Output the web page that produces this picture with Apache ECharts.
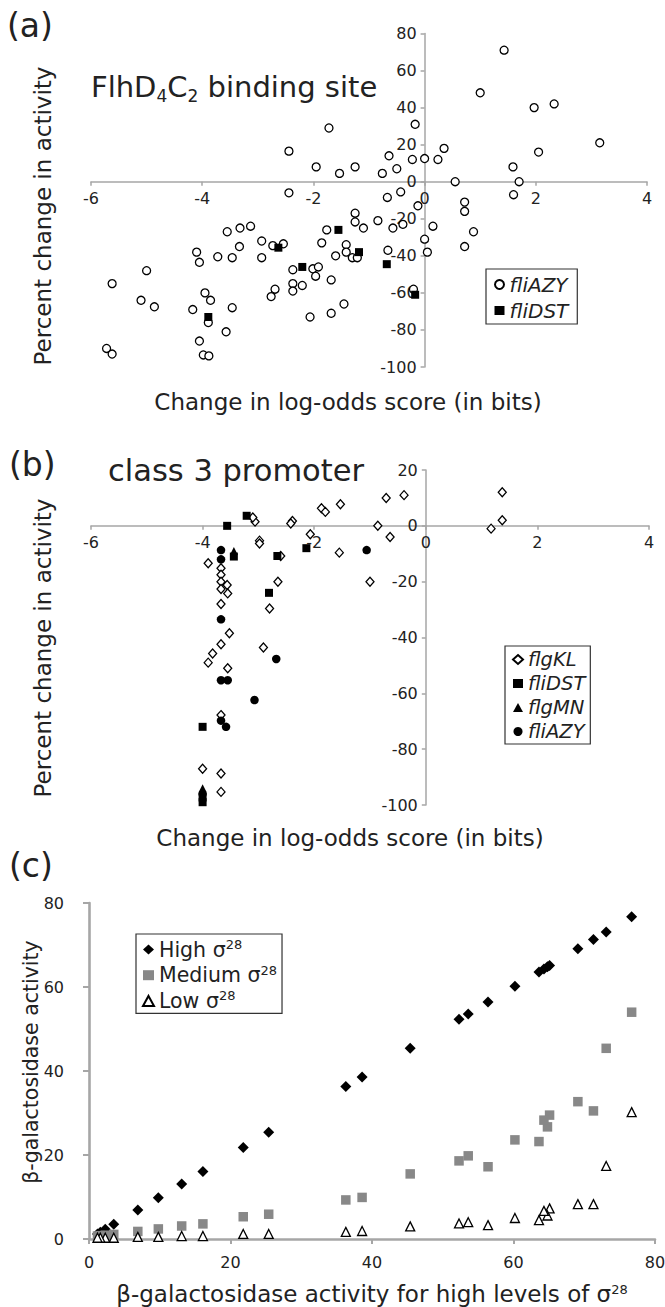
<!DOCTYPE html>
<html>
<head>
<meta charset="utf-8">
<title>sigma28 promoter activity</title>
<script src="https://cdn.jsdelivr.net/npm/echarts@6.0.0/dist/echarts.min.js"></script>
<style>
  html, body { margin: 0; padding: 0; background: #fff; }
  #chart { width: 665px; height: 1307px; }
</style>
</head>
<body>
<div id="chart"></div>
<script>
// (a) FlhD4C2 binding site: [change in log-odds score (bits), percent change in activity]
const aFliAZY = [
  [1.43, 71], [1.0, 48], [1.97, 40], [2.33, 42], [3.15, 21], [2.05, 16], [1.59, 8], [1.7, 0],
  [1.6, -7], [0.55, 0], [0.72, -11], [0.72, -16], [0.35, 18], [0.24, 12], [0, 12.5], [-0.22, 12],
  [-0.17, 31], [-0.64, 14], [-0.5, 7], [-0.76, 4.5], [-1.25, 8], [-1.53, 4.5], [-1.95, 8], [-1.72, 29],
  [-2.44, 16.5], [-2.44, -6], [-0.67, -8.5], [-0.43, -5.5], [-0.12, -13], [-1.25, -17], [-1.25, -21.7],
  [-1.1, -25], [-0.84, -21], [-0.57, -25], [-0.39, -23], [0.15, -24], [0, -31], [0.05, -38], [0.88, -27],
  [0.72, -35], [-0.66, -37], [-0.2, -58], [-1.41, -34], [-1.41, -38], [-1.3, -41], [-1.21, -41],
  [-1.6, -40], [-1.76, -26], [-1.85, -33], [-2.93, -32], [-2.93, -41], [-2.73, -34.5], [-2.54, -33.5],
  [-3.13, -24], [-3.32, -25], [-3.55, -27], [-3.33, -35], [-4.1, -38], [-4.05, -43.5], [-3.72, -40.5],
  [-3.46, -41], [-5.0, -48], [-5.62, -55], [-5.1, -64], [-4.86, -67.5], [-5.72, -90], [-5.62, -93],
  [-3.95, -60], [-3.85, -64], [-4.17, -69], [-3.46, -68], [-3.89, -76], [-3.57, -81], [-4.05, -86],
  [-3.98, -93.5], [-3.88, -94], [-2.37, -47.5], [-2.01, -47], [-1.91, -46], [-1.96, -51], [-1.68, -53],
  [-2.37, -55], [-2.2, -56], [-2.37, -59], [-2.69, -58], [-2.76, -62], [-1.45, -66], [-1.68, -71], [-2.06, -73]
];
const aFliDST = [
  [-1.55, -26], [-1.18, -38], [-0.68, -44.5], [-0.17, -61], [-2.2, -46], [-2.63, -35.6], [-3.89, -73]
];

// (b) class 3 promoter
const bFlgKL = [
  [1.37, 12], [1.37, 2], [1.17, -1], [-0.39, 11], [-0.71, 10], [-0.86, 0], [-0.64, -4], [-1.0, -20],
  [-1.55, -9.6], [-1.53, 7.7], [-1.87, 6.3], [-1.8, 5], [-2.07, -3], [-2.39, 1.7], [-2.42, 0.8],
  [-2.6, -10.8], [-2.65, -20], [-2.8, -29.6], [-2.98, -5.3], [-2.98, -6.3], [-3.06, 1.5], [-3.1, 3],
  [-3.9, -13.4], [-3.67, -15.2], [-3.67, -17.5], [-3.67, -20], [-3.56, -21.2], [-3.67, -22.6],
  [-3.55, -24.2], [-3.67, -28], [-3.52, -38.5], [-3.67, -42.4], [-3.82, -45.7], [-3.9, -49],
  [-3.55, -51], [-2.91, -43.6], [-3.67, -67.8], [-4.0, -87], [-3.67, -88.7], [-3.67, -95.3]
];
const bFliDST = [
  [-3.21, 3.6], [-3.56, 0], [-3.44, -11], [-2.14, -8], [-2.81, -24], [-2.66, -10.8],
  [-4.0, -72], [-4.0, -97.3], [-4.0, -99]
];
const bFlgMN = [[-3.44, -9], [-4.0, -94]];
const bFliAZY = [
  [-1.06, -8.7], [-3.67, -8.7], [-3.67, -12], [-3.67, -33.5], [-2.68, -47.7], [-3.67, -55.3],
  [-3.55, -55.3], [-3.07, -62.4], [-3.67, -69.8], [-3.58, -72], [-4.0, -96]
];

// (c) beta-galactosidase activity at high sigma28 (x) vs at each level (y)
const cHighLevel = [76.7, 73.1, 71.3, 69.1, 65.1, 64.8, 64.3, 63.6, 60.2, 56.4, 53.6, 52.3, 45.4,
  38.6, 36.3, 25.4, 21.8, 16.1, 13.1, 9.8, 6.9, 3.5, 2.3, 1.6, 1.2];
const cHigh = [76.7, 73.1, 71.3, 69.1, 65.1, 64.8, 64.3, 63.6, 60.2, 56.4, 53.6, 52.3, 45.4,
  38.6, 36.3, 25.4, 21.8, 16.1, 13.1, 9.8, 6.9, 3.5, 2.3, 1.6, 1.2];
const cMedium = [54, 45.4, 30.5, 32.7, 29.5, 26.7, 28.3, 23.2, 23.6, 17.2, 19.8, 18.6, 15.5,
  9.9, 9.3, 5.9, 5.3, 3.6, 3.1, 2.4, 1.8, 1.1, 0.9, 0.8, 0.7];
const cLow = [30.2, 17.4, 8.3, 8.3, 7.3, 5.6, 6.7, 4.5, 5.0, 3.3, 4.0, 3.7, 3.0,
  1.9, 1.7, 1.2, 1.2, 0.7, 0.7, 0.5, 0.5, 0.3, 0.3, 0.3, 0.3];

// axis ticks
const logOddsTicks = [-6, -4, -2, 0, 2, 4];
const pctTicksA = [-100, -80, -60, -40, -20, 0, 20, 40, 60, 80];
const pctTicksB = [-100, -80, -60, -40, -20, 0, 20];
const galTicks = [0, 20, 40, 60, 80];

const FONT = '"DejaVu Sans", Verdana, sans-serif';
const INK = '#222';
const AXIS_GREY = '#a6a6a6';

// grid boxes (px)
const gridA = { left: 91, top: 33.5, width: 556, height: 333.5 };
const gridB = { left: 91, top: 470, width: 558, height: 335 };
const gridC = { left: 89, top: 903, width: 566, height: 336 };

function pairs(xs, ys) {
  return xs.map((x, i) => [x, ys[i]]);
}

// shift an axis from the grid edge onto the other axis' zero (labels follow the line)
function zeroShift(ticks, length) {
  const lo = ticks[0], hi = ticks[ticks.length - 1];
  return -length * (0 - lo) / (hi - lo);
}

function tickAxis(ticks, gridIndex, extra) {
  return Object.assign({
    type: 'value',
    gridIndex: gridIndex,
    min: ticks[0],
    max: ticks[ticks.length - 1],
    interval: ticks[1] - ticks[0],
    splitLine: { show: false },
    axisLine: { show: true, onZero: false, lineStyle: { color: AXIS_GREY, width: 1.5 } },
    axisTick: { show: true, length: 4, lineStyle: { color: AXIS_GREY, width: 1.5 } },
    axisLabel: { fontSize: 16, fontFamily: FONT, color: INK }
  }, extra);
}

const openSym = { color: '#fff', borderColor: '#000', borderWidth: 1.3, opacity: 1 };
const fillSym = { color: '#000', opacity: 1 };

const chart = echarts.init(document.getElementById('chart'), null, { renderer: 'svg' });

const plainTitle = size => ({ fontSize: size, fontWeight: 'normal', fontFamily: FONT, color: INK });
const italicLegend = size => ({ fontSize: size, fontStyle: 'italic', fontFamily: FONT, color: INK, lineHeight: 21 });

const option = {
  backgroundColor: '#fff',
  animation: false,
  textStyle: { fontFamily: FONT },
  title: [
    { text: '(a)', left: 7, top: 9, padding: 0, textStyle: plainTitle(33) },
    { text: '{m|FlhD}{s|4}{m|C}{s|2}{m| binding site}', left: 91, top: 70, padding: 0,
      textStyle: {
        fontWeight: 'normal',
        rich: {
          m: { fontSize: 29, fontWeight: 'normal', fontFamily: FONT, color: INK, lineHeight: 34 },
          s: { fontSize: 17, fontWeight: 'normal', fontFamily: FONT, color: INK, verticalAlign: 'bottom', lineHeight: 20 }
        }
      } },
    { text: 'Change in log-odds score (in bits)', left: 348, top: 390, textAlign: 'center', padding: 0,
      textStyle: plainTitle(23) },
    { text: '(b)', left: 9, top: 448, padding: 0, textStyle: plainTitle(33) },
    { text: 'class 3 promoter', left: 108, top: 455, padding: 0, textStyle: plainTitle(30.5) },
    { text: 'Change in log-odds score (in bits)', left: 350, top: 826, textAlign: 'center', padding: 0,
      textStyle: plainTitle(23) },
    { text: '(c)', left: 9, top: 849, padding: 0, textStyle: plainTitle(33) }
  ],
  graphic: [
    { type: 'text', x: 43, y: 216, rotation: Math.PI / 2,
      style: { text: 'Percent change in activity', font: '23px ' + FONT, fill: INK,
        textAlign: 'center', textVerticalAlign: 'middle' } },
    { type: 'text', x: 43, y: 648, rotation: Math.PI / 2,
      style: { text: 'Percent change in activity', font: '23px ' + FONT, fill: INK,
        textAlign: 'center', textVerticalAlign: 'middle' } },
    { type: 'text', x: 31, y: 1062, rotation: Math.PI / 2,
      style: { text: 'β-galactosidase activity', font: '20.5px ' + FONT, fill: INK,
        textAlign: 'center', textVerticalAlign: 'middle' } }
  ],
  grid: [
    Object.assign({ outerBoundsMode: 'none' }, gridA),
    Object.assign({ outerBoundsMode: 'none' }, gridB),
    Object.assign({ outerBoundsMode: 'none' }, gridC)
  ],
  xAxis: [
    tickAxis(logOddsTicks, 0, {
      position: 'bottom', offset: zeroShift(pctTicksA, gridA.height),
      axisLabel: { fontSize: 16, fontFamily: FONT, color: INK, margin: 9 }
    }),
    tickAxis(logOddsTicks, 1, {
      position: 'bottom', offset: zeroShift(pctTicksB, gridB.height),
      axisLabel: { fontSize: 16, fontFamily: FONT, color: INK, margin: 9 }
    }),
    tickAxis(galTicks, 2, {
      axisLine: { show: true, onZero: false, lineStyle: { color: AXIS_GREY, width: 2.6 } },
      axisTick: { show: true, length: 5, lineStyle: { color: AXIS_GREY, width: 2 } },
      axisLabel: { fontSize: 16, fontFamily: FONT, color: INK, margin: 15 },
      name: '{t|β-galactosidase activity for high levels of σ}{s|28}',
      nameLocation: 'middle',
      nameGap: 44,
      nameTextStyle: {
        rich: {
          t: { fontSize: 23, fontFamily: FONT, color: INK, lineHeight: 22 },
          s: { fontSize: 13, fontFamily: FONT, color: INK, verticalAlign: 'top', lineHeight: 14 }
        }
      }
    })
  ],
  yAxis: [
    tickAxis(pctTicksA, 0, {
      position: 'left', offset: zeroShift(logOddsTicks, gridA.width),
      axisLabel: { fontSize: 16, fontFamily: FONT, color: INK, margin: 8 }
    }),
    tickAxis(pctTicksB, 1, {
      position: 'left', offset: zeroShift(logOddsTicks, gridB.width),
      axisLabel: { fontSize: 16, fontFamily: FONT, color: INK, margin: 8 }
    }),
    tickAxis(galTicks, 2, {
      axisLine: { show: true, onZero: false, lineStyle: { color: AXIS_GREY, width: 2.6 } },
      axisTick: { show: true, length: 6, lineStyle: { color: AXIS_GREY, width: 2 } },
      axisLabel: { fontSize: 16, fontFamily: FONT, color: INK, margin: 25 }
    })
  ],
  legend: [
    {
      data: ['a:fliAZY', 'a:fliDST'],
      formatter: name => name.split(':')[1],
      orient: 'vertical', left: 486, top: 269,
      padding: [5, 9, 3, 8], itemGap: 5, itemWidth: 10, itemHeight: 9,
      borderColor: '#333', borderWidth: 1.2,
      textStyle: italicLegend(20)
    },
    {
      data: ['b:flgKL', 'b:fliDST', 'b:flgMN', 'b:fliAZY'],
      formatter: name => name.split(':')[1],
      orient: 'vertical', left: 505, top: 646,
      padding: [3, 5, 2, 7], itemGap: 3, itemWidth: 10, itemHeight: 9,
      borderColor: '#333', borderWidth: 1.2,
      textStyle: italicLegend(19.5)
    },
    {
      data: ['High', 'Medium', 'Low'],
      formatter: name => '{t|' + name + ' σ}{s|28}',
      orient: 'vertical', left: 136, top: 934,
      padding: [4, 5, 2, 6], itemGap: 3.7, itemWidth: 11, itemHeight: 10,
      borderColor: '#333', borderWidth: 1.2,
      textStyle: {
        rich: {
          t: { fontSize: 20.5, fontFamily: FONT, color: INK, lineHeight: 23 },
          s: { fontSize: 13, fontFamily: FONT, color: INK, verticalAlign: 'top', lineHeight: 15 }
        }
      }
    }
  ],
  series: [
    { name: 'a:fliAZY', type: 'scatter', xAxisIndex: 0, yAxisIndex: 0, data: aFliAZY,
      symbol: 'circle', symbolSize: 8, itemStyle: openSym },
    { name: 'a:fliDST', type: 'scatter', xAxisIndex: 0, yAxisIndex: 0, data: aFliDST,
      symbol: 'rect', symbolSize: 8, itemStyle: fillSym },

    { name: 'b:flgKL', type: 'scatter', xAxisIndex: 1, yAxisIndex: 1, data: bFlgKL,
      symbol: 'diamond', symbolSize: [8, 9], itemStyle: openSym },
    { name: 'b:fliDST', type: 'scatter', xAxisIndex: 1, yAxisIndex: 1, data: bFliDST,
      symbol: 'rect', symbolSize: 8, itemStyle: fillSym },
    { name: 'b:flgMN', type: 'scatter', xAxisIndex: 1, yAxisIndex: 1, data: bFlgMN,
      symbol: 'triangle', symbolSize: 8, itemStyle: fillSym },
    { name: 'b:fliAZY', type: 'scatter', xAxisIndex: 1, yAxisIndex: 1, data: bFliAZY,
      symbol: 'circle', symbolSize: 8.5, itemStyle: fillSym },

    { name: 'High', type: 'scatter', xAxisIndex: 2, yAxisIndex: 2, data: pairs(cHighLevel, cHigh),
      symbol: 'diamond', symbolSize: 11, itemStyle: fillSym },
    { name: 'Medium', type: 'scatter', xAxisIndex: 2, yAxisIndex: 2, data: pairs(cHighLevel, cMedium),
      symbol: 'rect', symbolSize: 9.5, itemStyle: { color: '#888', opacity: 1 } },
    { name: 'Low', type: 'scatter', xAxisIndex: 2, yAxisIndex: 2, data: pairs(cHighLevel, cLow),
      symbol: 'triangle', symbolSize: 9, itemStyle: openSym }
  ]
};

chart.setOption(option);
</script>
</body>
</html>
